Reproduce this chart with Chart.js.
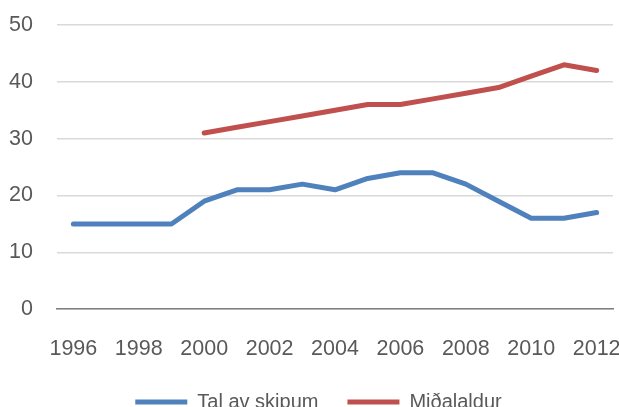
<!DOCTYPE html>
<html lang="is">
<head>
    <meta charset="UTF-8">
    <title>Tal av skipum og miðalaldur</title>
    <script src="https://cdn.jsdelivr.net/npm/chart.js"></script>
    <style>
        html, body { margin: 0; padding: 0; background: #fff; }
        #wrap { width: 619px; height: 407px; }
    </style>
</head>
<body>
<div id="wrap"><canvas id="chart"></canvas></div>
<script>
    const years = ['1996','1997','1998','1999','2000','2001','2002','2003','2004','2005','2006','2007','2008','2009','2010','2011','2012'];
    const talAvSkipum = [15, 15, 15, 15, 19, 21, 21, 22, 21, 23, 24, 24, 22, 19, 16, 16, 17];
    const midalaldur = [null, null, null, null, 31, 32, 33, 34, 35, 36, 36, 37, 38, 39, 41, 43, 42];
    const yTicks = [0, 10, 20, 30, 40, 50];

    const txt = '#595959';
    const fontFam = '"Liberation Sans", Arial, sans-serif';

    // pull the legend up closer to the axis labels and a bit to the right, like the original
    const legendMove = {
        id: 'legendMove',
        afterLayout(chart) {
            chart.legend.top -= 26;
            chart.legend.bottom -= 26;
            chart.legend.left += 24;
        }
    };

    new Chart(document.getElementById('chart'), {
        type: 'line',
        data: {
            labels: years,
            datasets: [
                {
                    label: 'Tal av skipum',
                    data: talAvSkipum,
                    borderColor: '#4F81BD',
                    backgroundColor: '#4F81BD',
                    borderWidth: 5,
                    borderCapStyle: 'round',
                    borderJoinStyle: 'round',
                    pointRadius: 0,
                    pointStyle: 'line',
                    tension: 0
                },
                {
                    label: 'Miðalaldur',
                    data: midalaldur,
                    borderColor: '#C0504D',
                    backgroundColor: '#C0504D',
                    borderWidth: 5,
                    borderCapStyle: 'round',
                    borderJoinStyle: 'round',
                    pointRadius: 0,
                    pointStyle: 'line',
                    tension: 0
                }
            ]
        },
        plugins: [legendMove],
        options: {
            responsive: true,
            maintainAspectRatio: false,
            animation: false,
            layout: { padding: { top: 25, right: 6, left: 0, bottom: -41 } },
            plugins: {
                tooltip: { enabled: false },
                legend: {
                    position: 'bottom',
                    labels: {
                        usePointStyle: true,
                        pointStyleWidth: 52,
                        padding: 29,
                        color: txt,
                        font: { family: fontFam, size: 20 }
                    }
                }
            },
            scales: {
                x: {
                    offset: true,
                    grid: { display: false, drawTicks: false },
                    border: { display: true, color: '#7f7f7f', width: 1.5 },
                    ticks: {
                        color: txt,
                        padding: 27,
                        maxRotation: 0,
                        autoSkip: false,
                        font: { family: fontFam, size: 21.5 },
                        callback: function (v, i) { return i % 2 === 0 ? years[i] : ''; }
                    },
                    afterFit: function (axis) { axis.paddingLeft = 0; axis.paddingRight = 0; }
                },
                y: {
                    min: 0,
                    max: 50,
                    afterBuildTicks: function (axis) { axis.ticks = yTicks.map(v => ({ value: v })); },
                    afterFit: function (axis) { axis.width = 57; axis.paddingTop = 0; axis.paddingBottom = 0; },
                    grid: { color: '#d9d9d9', lineWidth: 1.5, drawTicks: false },
                    border: { display: false },
                    ticks: {
                        color: txt,
                        padding: 24,
                        font: { family: fontFam, size: 21.5 }
                    }
                }
            }
        }
    });
</script>
</body>
</html>
